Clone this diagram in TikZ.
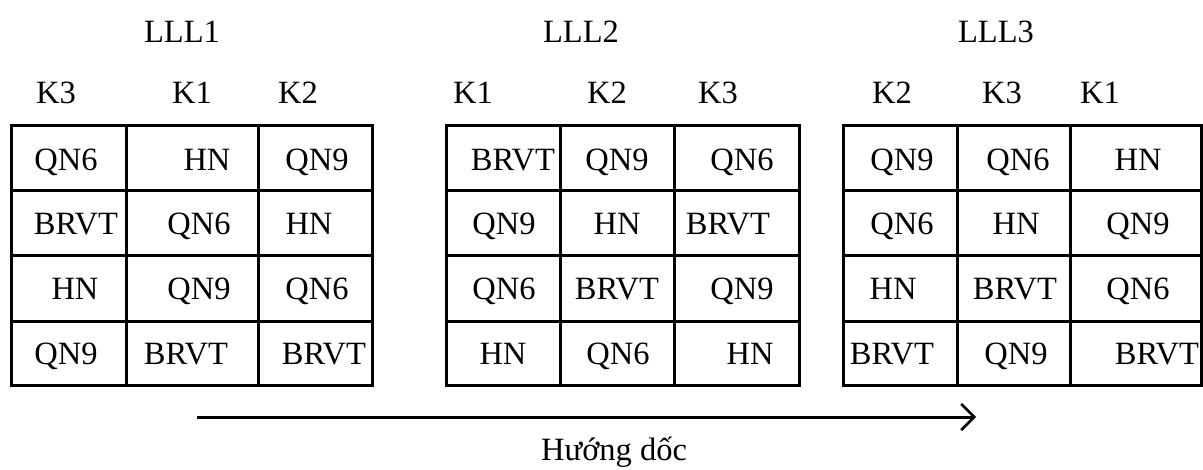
\documentclass[tikz,border=0pt]{standalone}
\usepackage{fontspec}
\setmainfont{Liberation Serif}
\usetikzlibrary{arrows.meta}
\begin{document}
\begin{tikzpicture}[x=1pt,y=-1pt,
  lbl/.style={anchor=base,inner sep=0pt,font=\fontsize{32.5}{38}\selectfont},
  gridline/.style={line width=3pt,line cap=rect},
  dirarrow/.style={line width=3pt,-{Straight Barb[length=13pt,width=26pt,line width=2.6pt]}}]
\useasboundingbox (0,0) rectangle (1203,469);
% grids
\foreach \g/\a/\b/\c/\d in {1/11/126/258/372, 2/446/560/674/799, 3/843/957/1070/1201}{
  \draw[gridline] (\a,125) rectangle (\d,385);
  \draw[gridline] (\b,125) -- (\b,385);
  \draw[gridline] (\c,125) -- (\c,385);
  \foreach \y in {190,255,321}{\draw[gridline] (\a,\y) -- (\d,\y);}
}
% titles
\node[lbl] (t1) at (182,42) {LLL1};
\node[lbl] (t2) at (581,42) {LLL2};
\node[lbl] (t3) at (996,42) {LLL3};
% column heads
\node[lbl] (h11) at (56,103) {K3};
\node[lbl] (h12) at (192,103) {K1};
\node[lbl] (h13) at (298,103) {K2};
\node[lbl] (h21) at (473,103) {K1};
\node[lbl] (h22) at (607,103) {K2};
\node[lbl] (h23) at (718,103) {K3};
\node[lbl] (h31) at (892,103) {K2};
\node[lbl] (h32) at (1002,103) {K3};
\node[lbl] (h33) at (1100,103) {K1};
% grid 1
\node[lbl] (a11) at (66,170) {QN6};
\node[lbl] (a12) at (207,170) {HN};
\node[lbl] (a13) at (317,170) {QN9};
\node[lbl] (a21) at (76,234) {BRVT};
\node[lbl] (a22) at (199,234) {QN6};
\node[lbl] (a23) at (309,234) {HN};
\node[lbl] (a31) at (75,299) {HN};
\node[lbl] (a32) at (199,299) {QN9};
\node[lbl] (a33) at (317,299) {QN6};
\node[lbl] (a41) at (66,364) {QN9};
\node[lbl] (a42) at (186,364) {BRVT};
\node[lbl] (a43) at (324,364) {BRVT};
% grid 2
\node[lbl] (b11) at (513,170) {BRVT};
\node[lbl] (b12) at (617,170) {QN9};
\node[lbl] (b13) at (742,170) {QN6};
\node[lbl] (b21) at (504,234) {QN9};
\node[lbl] (b22) at (617,234) {HN};
\node[lbl] (b23) at (728,234) {BRVT};
\node[lbl] (b31) at (504,299) {QN6};
\node[lbl] (b32) at (617,299) {BRVT};
\node[lbl] (b33) at (742,299) {QN9};
\node[lbl] (b41) at (503,364) {HN};
\node[lbl] (b42) at (618,364) {QN6};
\node[lbl] (b43) at (750,364) {HN};
% grid 3
\node[lbl] (c11) at (902,170) {QN9};
\node[lbl] (c12) at (1018,170) {QN6};
\node[lbl] (c13) at (1138,170) {HN};
\node[lbl] (c21) at (902,234) {QN6};
\node[lbl] (c22) at (1016,234) {HN};
\node[lbl] (c23) at (1138,234) {QN9};
\node[lbl] (c31) at (893,299) {HN};
\node[lbl] (c32) at (1015,299) {BRVT};
\node[lbl] (c33) at (1138,299) {QN6};
\node[lbl] (c41) at (892,364) {BRVT};
\node[lbl] (c42) at (1016,364) {QN9};
\node[lbl] (c43) at (1157,364) {BRVT};
% arrow
\coordinate (as) at (197,417);
\coordinate (ae) at (976,417);
\draw[dirarrow] (as) -- (ae);
\node[lbl,anchor=base west] (dir) at (541,460) {Hướng dốc};
\end{tikzpicture}
\end{document}
